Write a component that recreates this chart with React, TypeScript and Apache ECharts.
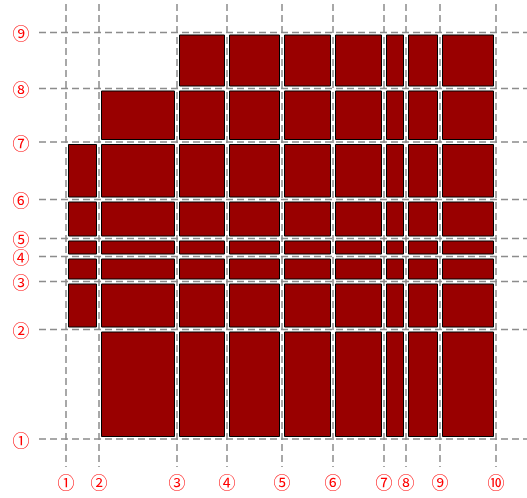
import React, { useEffect, useRef } from "react";
import * as echarts from "echarts";

// Break positions of the grid (arbitrary units)
const xBreaks = [0, 33, 111, 161, 216, 267, 318, 340, 374, 430];
const yBreaks = [0, 109.5, 157.5, 182.5, 200.5, 239.5, 297, 350.5, 406.5];
const xLabels = ["①", "②", "③", "④", "⑤", "⑥", "⑦", "⑧", "⑨", "⑩"];
const yLabels = ["①", "②", "③", "④", "⑤", "⑥", "⑦", "⑧", "⑨"];
// For each column (between consecutive x breaks): first filled row and last filled row (row = between consecutive y breaks)
const colFirstRow = [1, 0, 0, 0, 0, 0, 0, 0, 0];
const colLastRow = [5, 6, 7, 7, 7, 7, 7, 7, 7];

const LABEL_FONT = '17px "Noto Sans CJK SC", "DejaVu Sans", sans-serif';

export default function App() {
  const ref = useRef<HTMLDivElement>(null);
  useEffect(() => {
    if (!ref.current) return;
    const chart = echarts.init(ref.current, undefined, { renderer: "svg" });

    const cells: number[][] = [];
    for (let c = 0; c < colFirstRow.length; c++) {
      for (let r = colFirstRow[c]; r <= colLastRow[c]; r++) {
        cells.push([xBreaks[c], xBreaks[c + 1], yBreaks[r], yBreaks[r + 1]]);
      }
    }

    const lineStyle = { stroke: "#8c8c8c", lineWidth: 1.5, lineDash: [7, 4] };
    const inset = 2.5;

    chart.setOption({
      animation: false,
      grid: { left: 39, right: 0, top: 4, bottom: 31 },
      xAxis: { type: "value", min: -27, max: 461, show: false },
      yAxis: { type: "value", min: -28, max: 435, show: false },
      series: [
        {
          type: "custom",
          data: xBreaks.map((v) => [v, 0]),
          encode: { x: 0, y: 1 },
          renderItem: (params: any, api: any) => {
            const cs = params.coordSys;
            const x = api.coord([api.value(0), 0])[0];
            return {
              type: "group",
              children: [
                {
                  type: "line",
                  shape: { x1: x, y1: cs.y, x2: x, y2: cs.y + cs.height },
                  style: lineStyle,
                },
                {
                  type: "text",
                  x,
                  y: cs.y + cs.height + 14,
                  style: {
                    text: xLabels[params.dataIndex],
                    fill: "#ff0000",
                    font: LABEL_FONT,
                    align: "center",
                    verticalAlign: "middle",
                  },
                },
              ],
            };
          },
        },
        {
          type: "custom",
          data: yBreaks.map((v) => [0, v]),
          encode: { x: 0, y: 1 },
          renderItem: (params: any, api: any) => {
            const cs = params.coordSys;
            const y = api.coord([0, api.value(1)])[1];
            return {
              type: "group",
              children: [
                {
                  type: "line",
                  shape: { x1: cs.x, y1: y, x2: cs.x + cs.width, y2: y },
                  style: lineStyle,
                },
                {
                  type: "text",
                  x: cs.x - 18,
                  y,
                  style: {
                    text: yLabels[params.dataIndex],
                    fill: "#ff0000",
                    font: LABEL_FONT,
                    align: "center",
                    verticalAlign: "middle",
                  },
                },
              ],
            };
          },
        },
        {
          type: "custom",
          data: cells,
          encode: { x: [0, 1], y: [2, 3] },
          renderItem: (params: any, api: any) => {
            const p0 = api.coord([api.value(0), api.value(3)]);
            const p1 = api.coord([api.value(1), api.value(2)]);
            return {
              type: "rect",
              shape: {
                x: p0[0] + inset,
                y: p0[1] + inset,
                width: p1[0] - p0[0] - 2 * inset,
                height: p1[1] - p0[1] - 2 * inset,
              },
              style: { fill: "#990000", stroke: "#000", lineWidth: 1 },
            };
          },
        },
      ],
    });
    return () => chart.dispose();
  }, []);
  return (
    <div
      ref={ref}
      style={{ position: "fixed", left: 0, top: 0, width: 527, height: 498 }}
    />
  );
}
